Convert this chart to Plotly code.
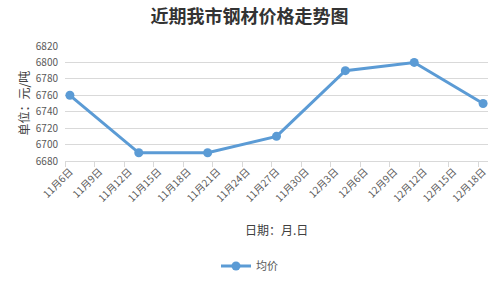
import plotly.graph_objects as go
import pandas as pd

# Data
DATES = ["2023-11-06", "2023-11-13", "2023-11-20", "2023-11-27", "2023-12-04", "2023-12-11", "2023-12-18"]
PRICES = [6760, 6690, 6690, 6710, 6790, 6800, 6750]
SERIES_NAME = "均价"

TICK_DATES = [d.strftime("%Y-%m-%d") for d in pd.date_range("2023-11-06", "2023-12-18", freq="3D")]
TICK_LABELS = ["11月6日", "11月9日", "11月12日", "11月15日", "11月18日", "11月21日", "11月24日",
               "11月27日", "11月30日", "12月3日", "12月6日", "12月9日", "12月12日", "12月15日", "12月18日"]
Y_TICKS = [6680, 6700, 6720, 6740, 6760, 6780, 6800, 6820]

TITLE = "近期我市钢材价格走势图"
X_TITLE = "日期：月.日"
Y_TITLE = "单位：元/吨"

FONT = "Noto Sans CJK SC"
GRAY = "#595959"
GRID = "#d9d9d9"
BLUE = "#5B9BD5"

boundaries = [(pd.Timestamp(d) - pd.Timedelta(hours=12)).strftime("%Y-%m-%d %H:%M") for d in TICK_DATES]

fig = go.Figure()
fig.add_trace(go.Scatter(
    x=DATES, y=PRICES, name=SERIES_NAME, mode="lines+markers",
    line=dict(color=BLUE, width=3), marker=dict(color=BLUE, size=9),
))

fig.update_layout(
    width=499, height=282,
    margin=dict(l=65, r=11, t=46, b=121),
    paper_bgcolor="white", plot_bgcolor="white",
    font=dict(family=FONT, color=GRAY, size=10),
    title=dict(text="<b>" + TITLE + "</b>", x=0.5, xref="container", xanchor="center",
               y=1 - 17 / 282, yref="container", yanchor="middle",
               font=dict(family=FONT, size=18, color="#333333")),
    showlegend=True,
    legend=dict(orientation="h", xref="container", yref="container", x=0.5, xanchor="center",
                y=1 - 266 / 282, yanchor="middle", font=dict(size=11, color=GRAY)),
    xaxis=dict(
        type="date",
        range=["2023-11-05 12:00", "2023-12-18 12:00"],
        tickmode="array", tickvals=TICK_DATES, ticktext=TICK_LABELS,
        tickangle=-45, ticks="", showgrid=False,
        showline=True, linecolor=GRID, linewidth=1,
        tickfont=dict(size=10, color=GRAY),
        minor=dict(tickmode="array", tickvals=boundaries, ticks="outside", ticklen=5,
                   tickcolor=GRID, showgrid=False),
        fixedrange=True,
    ),
    yaxis=dict(
        range=[6680, 6820], tickmode="array", tickvals=Y_TICKS,
        showgrid=True, gridcolor=GRID, gridwidth=1,
        showline=False, zeroline=False, ticks="",
        ticklabelstandoff=6,
        tickfont=dict(size=10, color=GRAY),
    ),
    annotations=[
        dict(text=X_TITLE, xref="paper", yref="paper", x=0.5, y=0, yshift=-68,
             showarrow=False, xanchor="center", yanchor="middle", font=dict(size=12, color="#404040")),
        dict(text=Y_TITLE, xref="paper", yref="paper", x=0, xshift=-42, y=0.5,
             showarrow=False, textangle=-90, xanchor="center", yanchor="middle",
             font=dict(size=12, color="#404040")),
    ],
)

fig.write_html("out.html")
